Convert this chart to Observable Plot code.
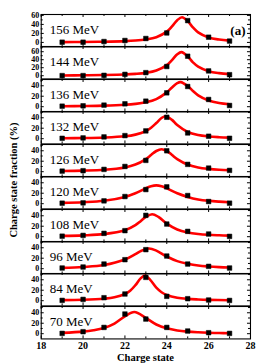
<!DOCTYPE html>
<html><head><meta charset="utf-8">
<script src="https://cdn.jsdelivr.net/npm/d3@7"></script>
<script src="https://cdn.jsdelivr.net/npm/@observablehq/plot@0.6"></script>
<style>
body{margin:0;background:#fff;}
#chart{position:relative;width:279px;height:364px;overflow:hidden;font-family:"Liberation Serif","Times New Roman",serif;}
#ytitle{position:absolute;left:-86px;top:174px;width:200px;height:12px;line-height:12px;text-align:center;font-size:10.5px;font-weight:bold;transform:rotate(-90deg);white-space:nowrap;}
#xtitle{position:absolute;left:45.4px;top:352px;width:200px;line-height:12px;text-align:center;font-size:10.5px;font-weight:bold;white-space:nowrap;}
svg text{font-family:"Liberation Serif","Times New Roman",serif !important;}
</style></head><body><div id="chart"><div id="ytitle">Charge state fraction (%)</div><div id="xtitle">Charge state</div></div>
<script>
// ---- data ----
const energies = ["156 MeV","144 MeV","136 MeV","132 MeV","126 MeV","120 MeV","108 MeV","96 MeV","84 MeV","70 MeV"];
const charges = [19,20,21,22,23,24,25,26,27];
const frac156 = [0.5,0.5,2,4.3,8.7,21,48.4,11.6,3];
const frac144 = [0.3,0.3,1,3.4,7.7,23,48.7,12,2.6];
const frac136 = [1,1.7,3,5.5,10.6,26.5,38.6,13.8,2.3];
const frac132 = [0.8,1.5,3.4,5.9,14.9,41,11,4.7,0.8];
const frac126 = [1.1,1.9,4.4,10,21.6,40,14,6.9,2.5];
const frac120 = [1,1.6,5.4,13.7,27,32.2,15.6,4.1,1];
const frac108 = [1,2.5,6.4,11.5,40.8,24.2,10.2,5.1,0.6];
const frac96  = [1.3,3.2,8.9,17.2,36.4,24.2,8.9,4.5,1.3];
const frac84  = [0.6,2.5,5.7,12.8,44.6,8.3,3.8,1.3,0.5];
const frac70  = [0.6,3.8,12,37.6,28,12,5.1,1.9,0.6];

// fitted red curves
const fit156x = [19,20,21,22,22.5,23,23.5,24,24.25,24.5,24.73,25,25.25,25.5,26,26.5,27];
const fit156y = [0.7,1.0,1.6,2.8,4.1,6.6,11.6,23.9,35.5,49.4,56,47.3,33.3,22.4,11,6.3,4.0];
const fit144x = [19,20,21,22,22.5,23,23.5,24,24.25,24.5,24.7,25,25.25,25.5,26,26.5,27];
const fit144y = [0.7,1.0,1.7,3.0,4.5,7.1,12.8,26.4,39,53.6,59,48.1,33.5,22.6,11.2,6.4,4.1];
const fit136x = [19,20,21,22,22.5,23,23.5,24,24.25,24.5,24.66,25,25.25,25.5,26,26.5,27];
const fit136y = [0.9,1.3,2.0,3.7,5.4,8.5,14.6,27.4,36.8,45.1,47,39.5,29.9,21.8,11.9,7.1,4.7];
const fit132x = [19,20,21,22,22.5,23,23.25,23.5,23.75,23.95,24.25,24.5,25,25.5,26,26.5,27];
const fit132y = [0.8,1.2,2.2,4.6,7.8,14.5,20.9,29.9,39.6,43,36,26,12.7,6.9,4.3,2.9,2.0];
const fit126x = [19,20,21,22,22.5,23,23.25,23.5,23.75,24,24.25,24.5,25,25.5,26,26.5,27];
const fit126y = [1.3,2.1,3.7,8.2,13.6,24.2,32,39.6,43,39.6,32,24.2,13.6,8.2,5.4,3.7,2.8];
const fit120x = [19,20,21,22,22.5,23,23.25,23.5,23.75,24,24.5,25,25.5,26,26.5,27];
const fit120y = [1.5,2.8,5.5,13,19.9,29.4,33.4,35,33.4,29.4,19.9,13,8.2,5.5,3.9,2.8];
const fit108x = [19,20,21,22,22.5,22.75,23,23.3,23.6,24,24.5,25,25.5,26,26.5,27];
const fit108y = [1.5,2.5,4.9,12.2,22,29.7,37.9,43,37.9,24.9,13.7,8.1,5.2,3.6,2.7,2.0];
const fit96x  = [19,20,21,22,22.5,22.75,23.15,23.5,24,24.5,25,25.5,26,26.5,27];
const fit96y  = [1.6,3.3,7.0,17.5,27.8,33.6,38.5,34.6,23.3,14.5,9.4,6.0,4.2,3.0,2.2];
const fit84x  = [19,20,21,21.5,22,22.25,22.5,22.75,22.95,23.2,23.5,23.75,24,24.5,25,25.5,26,27];
const fit84y  = [1.0,1.7,3.8,6.4,12.7,19.1,29.6,42.7,48,40.2,24.9,16.2,11,5.7,3.4,2.3,1.6,0.9];
const fit70x  = [19,20,20.5,21,21.5,22,22.45,23,23.5,24,24.5,25,25.5,26,26.5,27];
const fit70y  = [1.6,4.0,6.6,11.0,19.4,33.2,41.5,30.2,17.6,10.3,6.2,4.0,2.7,1.8,1.2,0.8];

const xTickLabels = [18,20,22,24,26,28];
const yDomains = [[-10,62],[-8,73],[-10,52],[-10,52],[-10,52],[-10,52],[-10,52],[-10,52],[-10,52],[-10,52]];

const fractions = [frac156,frac144,frac136,frac132,frac126,frac120,frac108,frac96,frac84,frac70];
const fitX = [fit156x,fit144x,fit136x,fit132x,fit126x,fit120x,fit108x,fit96x,fit84x,fit70x];
const fitY = [fit156y,fit144y,fit136y,fit132y,fit126y,fit120y,fit108y,fit96y,fit84y,fit70y];

// ---- layout ----
const W = 279, ML = 40.7, MR = 29, TOP0 = 14, PH = 32.43, XB = 26;
const innerW = W - ML - MR;
const xMajor = [18,20,22,24,26,28], xMinor = [19,21,23,25,27];
const font = "Liberation Serif";
const chart = document.getElementById("chart");

energies.forEach((label, i) => {
  const last = i === energies.length - 1;
  const yd = yDomains[i];
  const yLab = [0,20,40,60].filter(v => v <= yd[1]);
  const yMin = [10,30,50,70].filter(v => v <= yd[1]);
  const pts = charges.map((c, j) => ({x: c, y: fractions[i][j]}));
  const fit = fitX[i].map((x, j) => ({x, y: fitY[i][j]}));
  const marks = [
    Plot.line(fit, {x: "x", y: "y", stroke: "#ff0000", strokeWidth: 2.6, curve: "catmull-rom"}),
    Plot.dot(pts, {x: "x", y: "y", symbol: "square", r: 2.6, fill: "black", stroke: "black", strokeWidth: 0.5}),
    Plot.tickX(xMajor, {x: d => d, insetTop: PH - 3, stroke: "black"}),
    Plot.tickX(xMinor, {x: d => d, insetTop: PH - 2, stroke: "black"}),
    Plot.tickX(xMajor, {x: d => d, insetBottom: PH - 3, stroke: "black"}),
    Plot.tickX(xMinor, {x: d => d, insetBottom: PH - 2, stroke: "black"}),
    Plot.tickY(yLab, {y: d => d, insetRight: innerW - 3, stroke: "black"}),
    Plot.tickY(yMin, {y: d => d, insetRight: innerW - 2, stroke: "black"}),
    Plot.tickY(yLab, {y: d => d, insetLeft: innerW - 3, stroke: "black"}),
    Plot.tickY(yMin, {y: d => d, insetLeft: innerW - 2, stroke: "black"}),
    Plot.frame({stroke: "black", strokeWidth: 1.1}),
    Plot.axisY({ticks: yLab, tickSize: 0, tickPadding: 2, fontSize: 8, fontWeight: "bold", fontFamily: font, label: null}),
    Plot.text([label], {text: d => d, frameAnchor: "top-left", textAnchor: "start", dx: 8.6, dy: 10, fontSize: 13, fontFamily: font, fill: "black"})
  ];
  if (i === 0) marks.push(Plot.text(["(a)"], {text: d => d, frameAnchor: "top-right", textAnchor: "end", dx: -5, dy: 11, fontSize: 13, fontWeight: "bold", fontFamily: font, fill: "black"}));
  if (last) marks.push(Plot.axisX({ticks: xTickLabels, tickSize: 0, tickPadding: 3, fontSize: 10, fontWeight: "bold", fontFamily: font, label: null}));
  const svg = Plot.plot({
    width: W,
    height: PH + (last ? XB : 0),
    marginLeft: ML, marginRight: MR, marginTop: 0, marginBottom: last ? XB : 0,
    x: last ? {domain: [18, 28]} : {domain: [18, 28], axis: null},
    y: {domain: yd},
    style: {fontFamily: font, overflow: "visible", background: "transparent", color: "black"},
    marks
  });
  svg.style.position = "absolute";
  svg.style.left = "0px";
  svg.style.top = (TOP0 + i * PH) + "px";
  chart.appendChild(svg);
});
</script></body></html>
